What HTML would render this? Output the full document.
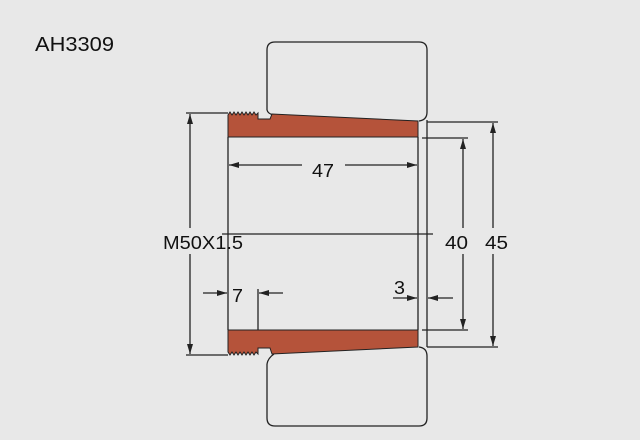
<!DOCTYPE html>
<html><head><style>body{margin:0;background:#e8e8e8}svg{display:block}</style></head><body>
<svg width="640" height="440" viewBox="0 0 640 440" xmlns="http://www.w3.org/2000/svg" font-family="Liberation Sans, sans-serif">
<rect width="640" height="440" fill="#e8e8e8"/>
<defs><marker id="a" viewBox="0 0 10 6" refX="10" refY="3" markerWidth="10" markerHeight="6" orient="auto" markerUnits="userSpaceOnUse"><path d="M0,0L10,3L0,6z" fill="#222"/></marker></defs>
<text x="35" y="51" font-size="20" fill="#111" textLength="79" lengthAdjust="spacingAndGlyphs">AH3309</text>
<g fill="none" stroke="#222" stroke-width="1.3">
<path d="M267,110 V50 Q267,42 275,42 H419 Q427,42 427,50 V112 Q427,120 419,121"/>
<path d="M267,364 V418 Q267,426 275,426 H419 Q427,426 427,418 V356 Q427,348 419,347"/>
<path d="M267,110 Q268,114 274,115"/><path d="M267,364 Q268,358 274,354"/>
<line x1="228" y1="137" x2="228" y2="330"/><line x1="418" y1="137" x2="418" y2="330"/>
<line x1="427" y1="120" x2="427" y2="347"/>
<line x1="222" y1="234" x2="433" y2="234"/>
<line x1="186" y1="113" x2="228" y2="113"/><line x1="186" y1="355" x2="228" y2="355"/>
<line x1="190" y1="228" x2="190" y2="114" marker-end="url(#a)"/><line x1="190" y1="254" x2="190" y2="354" marker-end="url(#a)"/>
<line x1="422" y1="138" x2="468" y2="138"/><line x1="422" y1="330" x2="468" y2="330"/>
<line x1="463" y1="228" x2="463" y2="139" marker-end="url(#a)"/><line x1="463" y1="254" x2="463" y2="329" marker-end="url(#a)"/>
<line x1="427" y1="122" x2="498" y2="122"/><line x1="427" y1="347" x2="498" y2="347"/>
<line x1="493" y1="228" x2="493" y2="123" marker-end="url(#a)"/><line x1="493" y1="254" x2="493" y2="346" marker-end="url(#a)"/>
<line x1="302" y1="165" x2="229" y2="165" marker-end="url(#a)"/><line x1="345" y1="165" x2="417" y2="165" marker-end="url(#a)"/>
<line x1="203" y1="293" x2="227" y2="293" marker-end="url(#a)"/><line x1="283" y1="293" x2="259" y2="293" marker-end="url(#a)"/>
<line x1="258" y1="289" x2="258" y2="345"/>
<line x1="393" y1="298" x2="417" y2="298" marker-end="url(#a)"/><line x1="453" y1="298" x2="428" y2="298" marker-end="url(#a)"/>
</g>
<g fill="#b5533a" stroke="#222" stroke-width="1">
<path d="M228,137 V115 L230,112 L232,115 L234,112 L236,115 L238,112 L240,115 L242,112 L244,115 L246,112 L248,115 L250,112 L252,115 L254,112 L256,115 L258,113 V119 H270 L272,114 L418,121 V137 Z"/>
<path d="M228,330 V352 L230,355 L232,352 L234,355 L236,352 L238,355 L240,352 L242,355 L244,352 L246,355 L248,352 L250,355 L252,352 L254,355 L256,352 L258,354 V348 H270 L272,354 L418,347 V330 Z"/>
</g>
<g font-size="18" fill="#111">
<text x="312" y="177" textLength="22" lengthAdjust="spacingAndGlyphs">47</text>
<text x="163" y="249" textLength="80" lengthAdjust="spacingAndGlyphs">M50X1.5</text>
<text x="445" y="249" textLength="23" lengthAdjust="spacingAndGlyphs">40</text>
<text x="485" y="249" textLength="23" lengthAdjust="spacingAndGlyphs">45</text>
<text x="232" y="302" textLength="11" lengthAdjust="spacingAndGlyphs">7</text>
<text x="394" y="294" textLength="11" lengthAdjust="spacingAndGlyphs">3</text>
</g>
</svg>
</body></html>
